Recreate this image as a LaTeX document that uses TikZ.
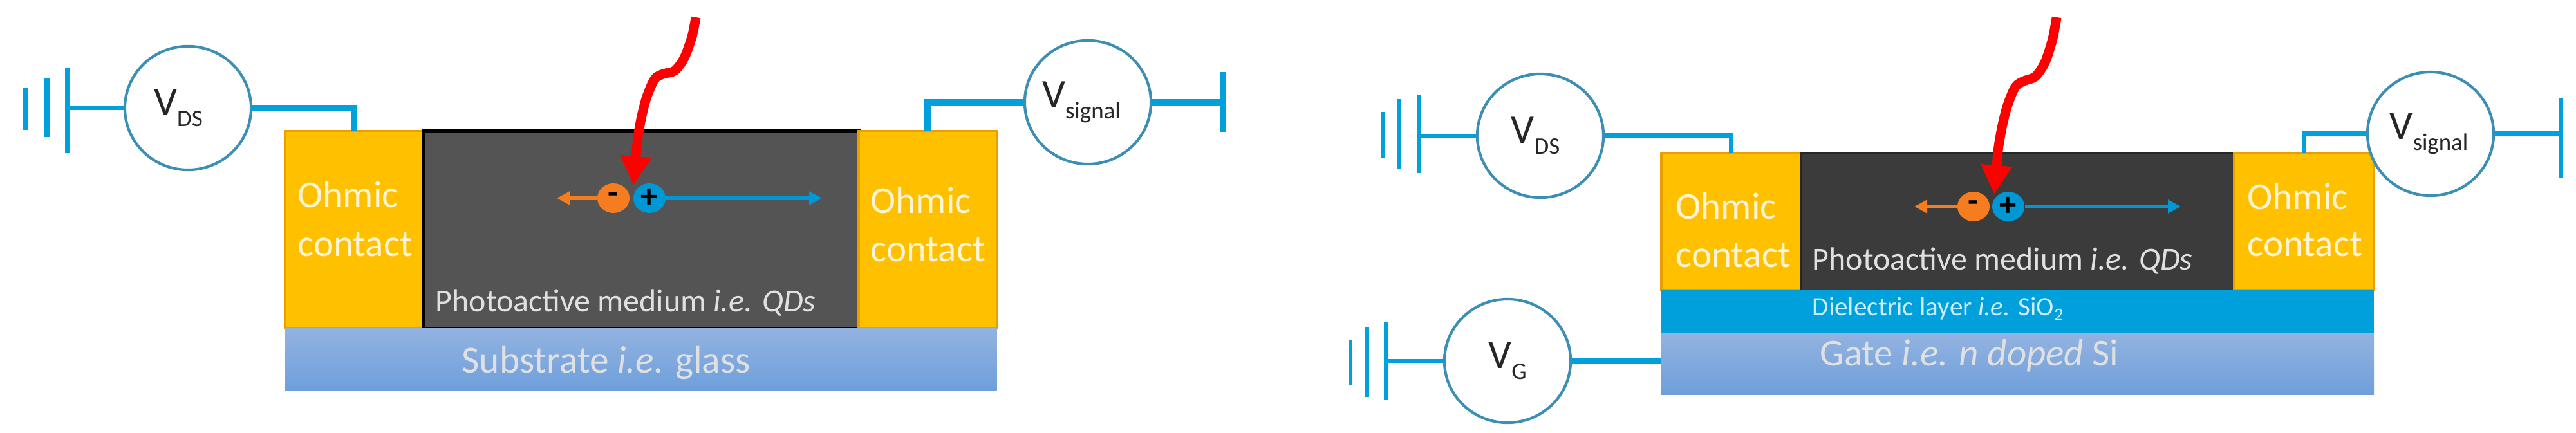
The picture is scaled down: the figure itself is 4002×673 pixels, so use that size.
\documentclass[tikz,border=0pt]{standalone}
\usepackage{fontspec}
\setmainfont{Carlito}
\usetikzlibrary{arrows.meta, positioning, shapes.geometric}

\definecolor{wireblue}{HTML}{00A0DC}
\definecolor{ringblue}{HTML}{3C8FB4}
\definecolor{contactfill}{HTML}{FFC000}
\definecolor{contactedge}{HTML}{E8A000}
\definecolor{labelpale}{HTML}{FFF4D6}
\definecolor{chargeorange}{HTML}{F57C1F}
\definecolor{chargeblue}{HTML}{0098D4}
\definecolor{substrate}{HTML}{93B3E0}
\definecolor{substrateb}{HTML}{6E9FDC}

\newcommand{\lowtext}[1]{\raisebox{-0.55ex}{\fontsize{10.5}{12}\selectfont #1}}
\newcommand{\readout}[2]{\makebox[1cm]{\hspace*{#1}V\lowtext{#2}}}

\tikzset{
  layer/.style={rectangle, inner sep=0pt, outer sep=0pt},
  contact/.style={layer, fill=contactfill, draw=contactedge, line width=0.9pt},
  base/.style={layer, top color=substrate, bottom color=substrateb},
  meter/.style={ellipse, draw=ringblue, fill=white, line width=1.2pt, inner sep=0pt,
    minimum width=1.96cm, minimum height=1.92cm, text=black!85, font=\fontsize{18}{20}\selectfont},
  wire/.style={draw=wireblue, line width=2.2pt},
  thinwire/.style={draw=wireblue, line width=1.8pt},
  charge/.style={ellipse, inner sep=0pt, minimum width=0.5cm, minimum height=0.46cm,
    font=\bfseries\fontsize{15}{15}\selectfont},
  drift/.style={line width=1.5pt, -{Triangle[length=0.2cm,width=0.2cm]}},
  photon/.style={draw=red, line width=4.2pt, -{Triangle[length=0.45cm,width=0.46cm]}},
  boxtext/.style={inner sep=0pt, text=labelpale, anchor=west, font=\fontsize{16.8}{18}\selectfont},
  smalltext/.style={boxtext, text=white!88!black, font=\fontsize{14.2}{16}\selectfont},
}

\begin{document}
\begin{tikzpicture}[x=0.01cm, y=-0.01cm, node distance=0pt]
  \useasboundingbox (0,0) rectangle (4002,673);

  % left device
  \node (contactA) [contact, minimum width=2.15cm, minimum height=3.07cm] at (550,357) {};
  \node (mediumA) [layer, fill=black!67, draw=black, line width=1.6pt, minimum width=6.76cm, minimum height=3.07cm, right=of contactA] {};
  \node (contactB) [contact, minimum width=2.14cm, minimum height=3.07cm, right=of mediumA] {};
  \node (substrateA) [base, minimum width=11.05cm, minimum height=0.96cm, below=of mediumA] {};

  \node (ohmicA) [boxtext] at (462,302) {Ohmic};
  \node (ohmicAb) [boxtext] at (462,380) {contact};
  \node (ohmicB) [boxtext] at (1352,311) {Ohmic};
  \node (ohmicBb) [boxtext] at (1352,388) {contact};
  \node (mediumtextA) [smalltext] at (676,470) {Photoactive medium \textit{i.e. QDs}};
  \node (substratetext) [smalltext, font=\fontsize{16.9}{18}\selectfont] at (717,564) {Substrate \textit{i.e.} glass};

  \node (vdsA) [meter] at (292,168) {\readout{-0.3cm}{DS}};
  \node (vsigA) [meter] at (1690,159) {\readout{-0.2cm}{signal}};

  \coordinate (groundA) at (105,168);
  \coordinate (endA) at (1900,159);
  \foreach \x/\a/\b in {40/137/202, 73/122/213, 105/105/238, 1900/112/205}
    \draw[wire] (\x,\a) -- (\x,\b);
  \draw[thinwire] (groundA) -- (vdsA.west);
  \draw[wire, line width=3pt] (vdsA.east) -| (contactA.north);
  \draw[wire, line width=3pt] (vsigA.west) -| (contactB.north);
  \draw[wire, line width=3pt] (vsigA.east) -- (endA);

  % charges left
  \node (negA) [charge, fill=chargeorange] at (953,308) {-};
  \node (posA) [charge, fill=chargeblue] at (1009,308) {+};
  \coordinate (leftA) at (865,308);
  \coordinate (rightA) at (1277,308);
  \draw[drift, draw=chargeorange] (negA.west) -- (leftA);
  \draw[drift, draw=chargeblue] (posA.east) -- (rightA);
  \draw[photon] plot[smooth] coordinates {(1081,27) (1075,57) (1063,90) (1048,110) (1030,115) (1017,123) (1005,150) (997,180) (991,213) (988,243) (984,288)};

  % right device
  \node (contactC) [contact, minimum width=2.17cm, minimum height=2.13cm] at (2689.5,344.5) {};
  \node (mediumB) [layer, fill=black!77, draw=black!85, line width=0.6pt, minimum width=6.72cm, minimum height=2.13cm, right=of contactC] {};
  \node (contactD) [contact, minimum width=2.18cm, minimum height=2.13cm, right=of mediumB] {};
  \node (dielectric) [layer, fill=wireblue, minimum width=11.07cm, minimum height=0.66cm, below=of mediumB] {};
  \node (gate) [base, minimum width=11.07cm, minimum height=0.96cm, below=of dielectric] {};

  \node (ohmicC) [boxtext] at (2603,320) {Ohmic};
  \node (ohmicCb) [boxtext] at (2603,397) {contact};
  \node (ohmicD) [boxtext] at (3491,305) {Ohmic};
  \node (ohmicDb) [boxtext] at (3491,380) {contact};
  \node (mediumtextB) [smalltext] at (2815,405) {Photoactive medium \textit{i.e. QDs}};
  \node (dielectrictext) [smalltext, text=white!80!wireblue, font=\fontsize{11.7}{13}\selectfont] at (2815,480) {Dielectric layer \textit{i.e.} SiO\raisebox{-0.4ex}{\fontsize{8}{9}\selectfont 2}};
  \node (gatetext) [smalltext, font=\fontsize{16.8}{18}\selectfont] at (2827,553) {Gate \textit{i.e. n doped} Si};

  \node (vdsB) [meter] at (2393,211) {\readout{-0.15cm}{DS}};
  \node (vsigB) [meter] at (3776,208) {\readout{-0.05cm}{signal}};
  \node (vgate) [meter] at (2342,561) {\readout{0cm}{G}};

  \coordinate (groundB) at (2204,211);
  \coordinate (groundC) at (2153,561);
  \coordinate (endB) at (3979,208);
  \foreach \x/\a/\b in {2148/174/245, 2174/154/262, 2204/147/269, 2098/528/598, 2124/508/617, 2153/500/621, 3979/152/277}
    \draw[thinwire] (\x,\a) -- (\x,\b);
  \draw[thinwire] (groundB) -- (vdsB.west);
  \draw[thinwire] (groundC) -- (vgate.west);
  \draw[wire] (vdsB.east) -| (contactC.north);
  \draw[wire] (vsigB.west) -| (contactD.north);
  \draw[wire] (vsigB.east) -- (endB);
  \draw[wire] (vgate.east) -- (vgate.east -| gate.west);

  % charges right
  \node (negB) [charge, fill=chargeorange] at (3066,321) {-};
  \node (posB) [charge, fill=chargeblue] at (3120,321) {+};
  \coordinate (leftB) at (2974,321);
  \coordinate (rightB) at (3388,321);
  \draw[drift, draw=chargeorange] (negB.west) -- (leftB);
  \draw[drift, draw=chargeblue] (posB.east) -- (rightB);
  \draw[photon] plot[smooth] coordinates {(3195,27) (3189,60) (3177,97) (3162,119) (3144,126) (3131,135) (3119,163) (3111,194) (3105,227) (3102,257) (3098,302)};
\end{tikzpicture}
\end{document}
